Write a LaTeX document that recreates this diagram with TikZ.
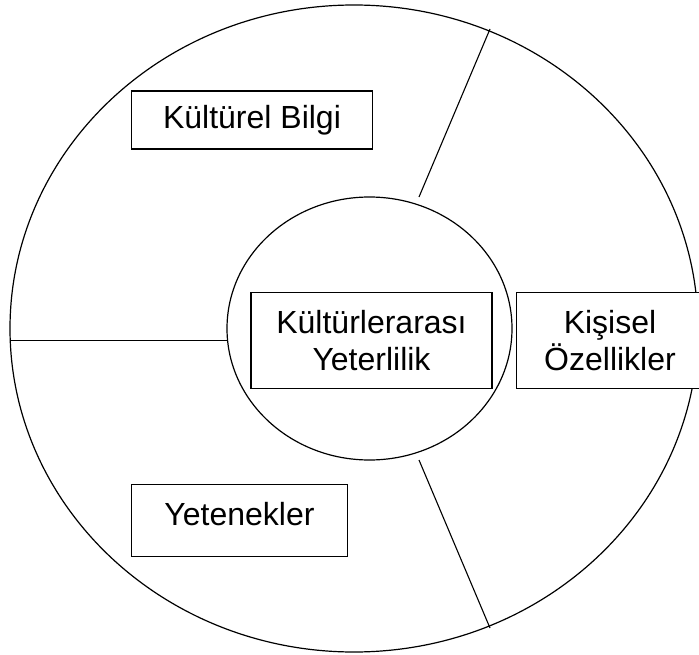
\documentclass[tikz,border=0pt]{standalone}
\usepackage{fontspec}
\setmainfont{Liberation Sans}
\begin{document}
\begin{tikzpicture}[x=1pt,y=-1pt,line width=1.2pt,
  lbl/.style={draw,fill=white,inner sep=0pt,align=center,
    font=\fontsize{32}{37.5}\selectfont},
  txt/.style={inner sep=0pt,align=center,font=\fontsize{32}{37.5}\selectfont},
  sep/.style={line width=1.1pt}]
\useasboundingbox (0,0) rectangle (699,655);
% outer ellipse
\draw (354,328.5) ellipse [x radius=344, y radius=323.5];
% inner circle
\draw (369.5,328.5) ellipse [x radius=142.5, y radius=131.5];
% separators
\coordinate (u1) at (419,197);
\coordinate (u2) at (490,29);
\coordinate (d1) at (419,460);
\coordinate (d2) at (490,628);
\coordinate (h1) at (10,340.5);
\coordinate (h2) at (227,340.5);
\draw[sep] (u1) -- (u2);
\draw[sep] (d1) -- (d2);
\draw[sep] (h1) -- (h2);
% boxes
\node[lbl,minimum width=240.5pt,minimum height=58pt] (kb) at (252,120) {};
\node[txt] (kbt) at (252,120) {Kültürel Bilgi};
\node[lbl,minimum width=241pt,minimum height=96pt] (ky) at (371.5,340.5) {};
\node[txt] (kyt) at (371.5,340.5) {Kültürlerarası\\Yeterlilik};
\node[lbl,minimum width=216pt,minimum height=72pt] (ye) at (239.5,520.5) {};
\node[txt] (yet) at (239.5,514.5) {Yetenekler};
\node[lbl,minimum width=200pt,minimum height=96pt,anchor=west] (ko) at (515.5,340.5) {};
\node[txt] (kot) at (610,340.5) {Kişisel\\Özellikler};
\end{tikzpicture}
\end{document}
